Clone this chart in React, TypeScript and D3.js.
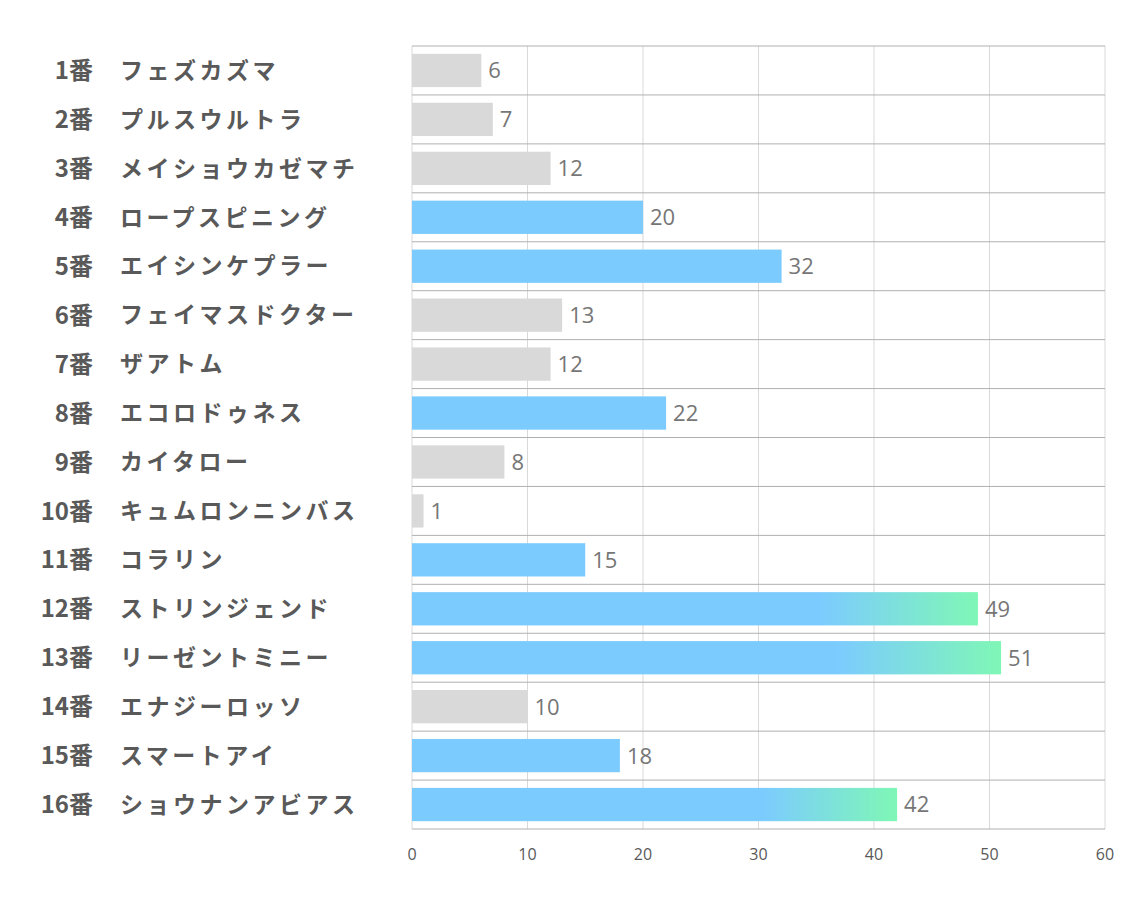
import React from "react";
import * as d3 from "d3";

const numbers = ["1番","2番","3番","4番","5番","6番","7番","8番","9番","10番","11番","12番","13番","14番","15番","16番"];
const names = ["フェズカズマ","プルスウルトラ","メイショウカゼマチ","ロープスピニング","エイシンケプラー","フェイマスドクター","ザアトム","エコロドゥネス","カイタロー","キュムロンニンバス","コラリン","ストリンジェンド","リーゼントミニー","エナジーロッソ","スマートアイ","ショウナンアビアス"];
const values = [6,7,12,20,32,13,12,22,8,1,15,49,51,10,18,42];
const highlight = [false,false,false,true,true,false,false,true,false,false,true,true,true,false,true,true];
const gradientBars = [false,false,false,false,false,false,false,false,false,false,false,true,true,false,false,true];
const xTicks = [0,10,20,30,40,50,60];

const W = 1134, H = 907;
const left = 412, right = 1105, top = 46, bottom = 829;

export default function App() {
  const x = d3.scaleLinear().domain([0, 60]).range([left, right]);
  const y = d3.scaleBand<number>().domain(d3.range(values.length)).range([top, bottom]).paddingInner(0.32).paddingOuter(0.16);
  const step = y.step();
  const BLUE = "#7ccbff", GREEN = "#7ff7b6", GRAY = "#d9d9d9";
  return (
    <svg width={W} height={H} style={{ position: "absolute", left: 0, top: 0, background: "#fff" }}>
      <defs>
        <linearGradient id="grad" x1="0" x2="1" y1="0" y2="0">
          <stop offset="0" stopColor={BLUE} />
          <stop offset="0.72" stopColor={BLUE} />
          <stop offset="1" stopColor={GREEN} />
        </linearGradient>
      </defs>
      {xTicks.map(t => (
        <line key={"g" + t} x1={x(t)} x2={x(t)} y1={top} y2={bottom} stroke="#d9d9d9" strokeWidth={1} />
      ))}
      {d3.range(values.length + 1).map(i => (
        <line key={"h" + i} x1={left} x2={right} y1={top + i * step} y2={top + i * step} stroke="#b0b0b0" strokeWidth={1} />
      ))}
      {values.map((v, i) => (
        <g key={i}>
          <rect x={x(0)} y={y(i)} width={x(v) - x(0)} height={y.bandwidth()}
            fill={gradientBars[i] ? "url(#grad)" : highlight[i] ? BLUE : GRAY} />
          <text x={x(v) + 7} y={y(i)! + y.bandwidth() / 2} dy="0.36em" fontSize={22}
            fontFamily="'Open Sans', 'Noto Sans', sans-serif" fill="#767676">{v}</text>
          <text x={93} y={y(i)! + y.bandwidth() / 2} dy="0.36em" textAnchor="end" fontSize={24} fontWeight="bold"
            fontFamily="'Noto Sans CJK JP', sans-serif" fill="#595959">{numbers[i]}</text>
          <text x={120} y={y(i)! + y.bandwidth() / 2} dy="0.36em" fontSize={23} fontWeight="bold"
            fontFamily="'Noto Sans CJK JP', sans-serif" fill="#595959" letterSpacing={3.5}>{names[i]}</text>
        </g>
      ))}
      {xTicks.map(t => (
        <text key={"t" + t} x={x(t)} y={854} dy="0.36em" textAnchor="middle" fontSize={16}
          fontFamily="'Open Sans', 'Noto Sans', sans-serif" fill="#595959">{t}</text>
      ))}
    </svg>
  );
}
